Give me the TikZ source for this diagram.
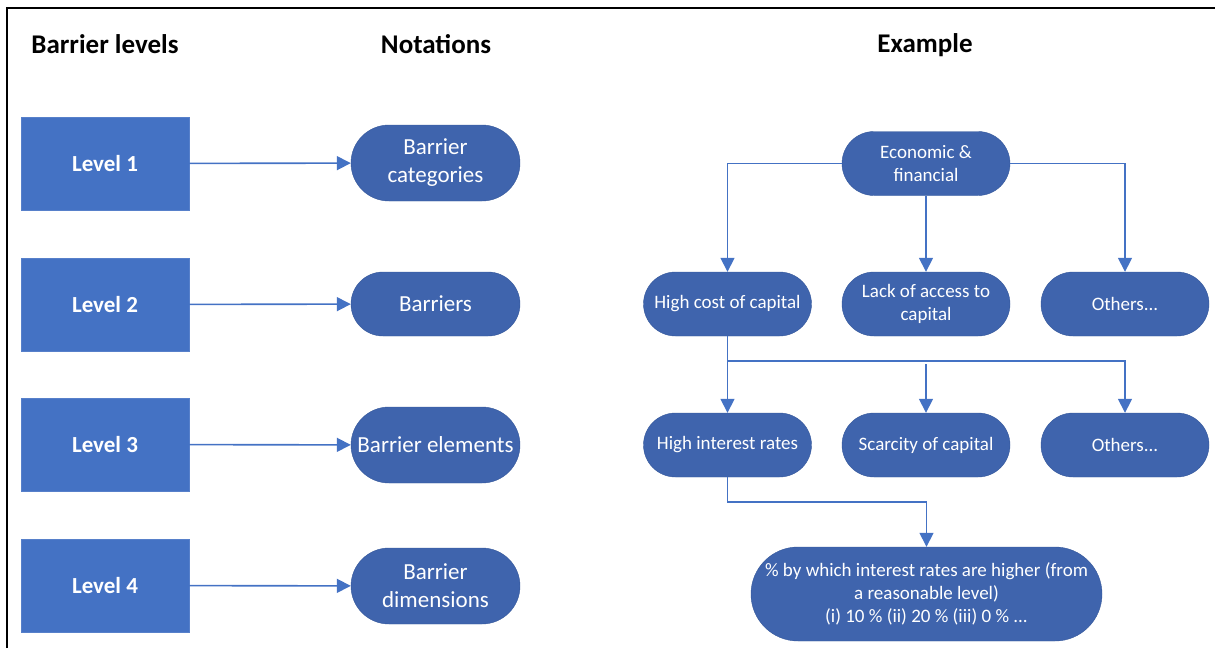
\documentclass[tikz,border=0pt]{standalone}
\usepackage{fontspec}
\setmainfont{Carlito}
\usetikzlibrary{positioning,arrows.meta}

\definecolor{levelblue}{HTML}{4472C4}
\definecolor{pillblue}{HTML}{3F64AD}
\definecolor{pillline}{HTML}{34579A}

\tikzset{
  level/.style={fill=levelblue,draw=levelblue!90!white,minimum width=168pt,minimum height=93pt,
    text=white,font=\fontsize{23}{27}\selectfont\bfseries},
  notation/.style={fill=pillblue,draw=pillline,minimum width=169pt,rounded corners=38pt,
    text=white,align=center,font=\fontsize{23}{28}\selectfont},
  example/.style={fill=pillblue,draw=pillline,minimum width=168pt,minimum height=64pt,rounded corners=32pt,
    text=white,align=center,font=\fontsize{19}{23}\selectfont,inner sep=2pt},
  heading/.style={font=\fontsize{27}{32}\selectfont\bfseries},
  link/.style={draw=levelblue,line width=1.6pt,-{Triangle[length=14pt,width=14pt]}},
}

\begin{document}
\begin{tikzpicture}[x=1pt,y=-1pt]

\useasboundingbox (0,0) rectangle (1215,648);
\draw[line width=2.2pt] (7,648) -- (7,8) -- (1215,8);

% headings
\node[heading] (hlev) at (105,44) {Barrier levels};
\node[heading] (hnot) at (436,44) {Notations};
\node[heading] (hexa) at (925,45) {Example};

% levels
\node[level] (lev1) at (105,163.5) {Level 1};
\node[level] (lev2) at (105,304.5) {Level 2};
\node[level] (lev3) at (105,444.5) {Level 3};
\node[level] (lev4) at (105,585.5) {Level 4};

% notations
\node[notation,minimum height=76pt] (not1) at (435.5,163) {Barrier\\categories};
\node[notation,minimum height=64pt,rounded corners=32pt] (not2) at (435.5,304) {Barriers};
\node[notation,minimum height=76pt] (not3) at (435.5,445) {Barrier elements};
\node[notation,minimum height=76pt] (not4) at (435.5,586) {Barrier\\dimensions};

\draw[link] (lev1) -- (not1);
\draw[link] (lev2) -- (not2);
\draw[link] (lev3) -- (not3);
\draw[link] (lev4) -- (not4);

% example tree
\node[example] (eco) at (926,163.5) {Economic \&\\financial};
\node[example] (cost) at (727.5,304) {High cost of capital};
\node[example] (access) at (926,304) {Lack of access to\\capital};
\node[example] (oth1) at (1125,304) {Others...};
\node[example] (rate) at (727.5,445) {High interest rates};
\node[example] (scarce) at (926,445) {Scarcity of capital};
\node[example] (oth2) at (1125,445) {Others...};
\node[example,minimum width=351pt,minimum height=94pt,rounded corners=47pt] (pct) at (926.5,594)
  {\% by which interest rates are higher (from\\a reasonable level)\\(i) 10 \% (ii) 20 \% (iii) 0 \% ...};

\draw[link] (eco.west) -| (cost.north);
\draw[link] (eco.south) -- (access.north);
\draw[link] (eco.east) -| (oth1.north);

\coordinate (bus) at (727.5,361);
\coordinate (bus2) at (926,364);
\draw[link] (cost.south) -- (rate.north);
\draw[link] (bus) -| (oth2.north);
\draw[link] (bus2) -- (scarce.north);

\coordinate (bend) at (727.5,502);
\draw[link] (rate.south) -- (bend) -| (pct.north);

\end{tikzpicture}
\end{document}
